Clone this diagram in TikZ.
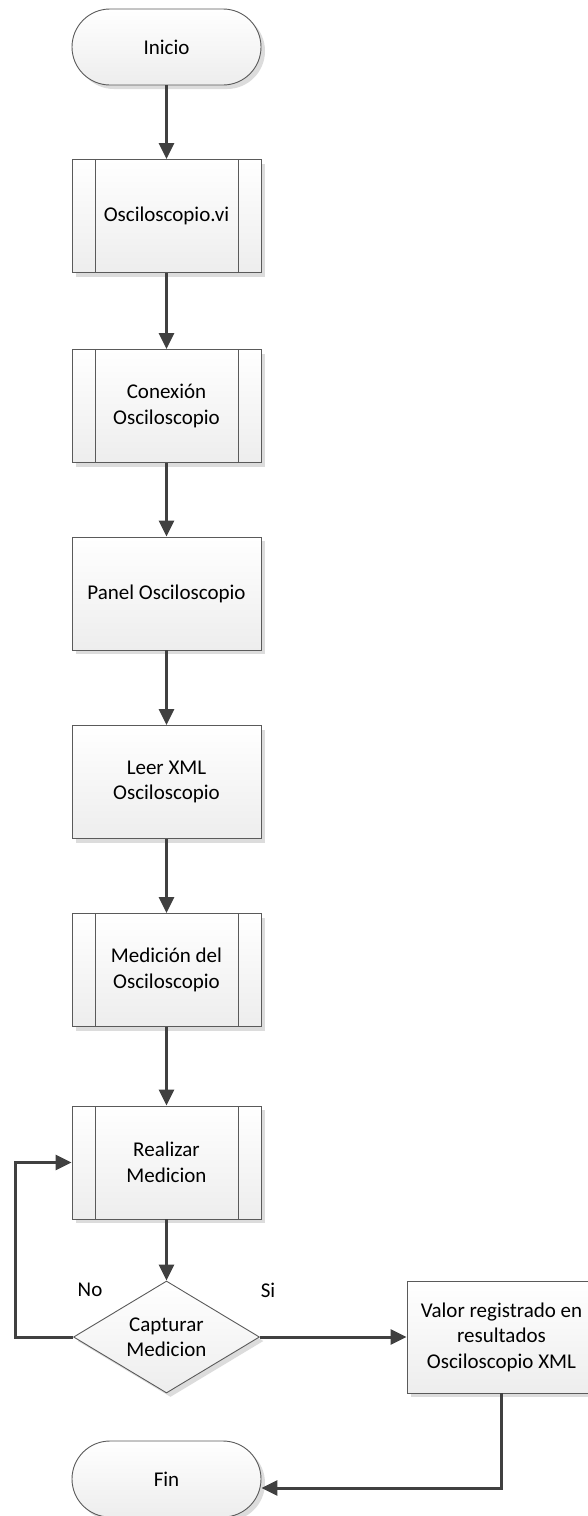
\documentclass[tikz,border=0pt]{standalone}
\usepackage{fontspec}
\setmainfont{Carlito}
\usetikzlibrary{arrows.meta,shapes.geometric,shadows}
\definecolor{edgecol}{HTML}{5A5A5A}
\definecolor{arrcol}{HTML}{404040}
\definecolor{shadcol}{HTML}{DCDCDC}
\tikzset{
  base/.style={draw=edgecol, line width=0.9pt, top color=white, bottom color=black!7,
    drop shadow={shadow xshift=4pt, shadow yshift=-4pt, fill=shadcol, opacity=1},
    inner sep=0pt, align=center, text=black, font=\fontsize{21}{25.5}\selectfont},
  proc/.style={base, rectangle, minimum width=189pt, minimum height=113pt},
  subproc/.style={proc, path picture={
    \draw[edgecol, line width=0.9pt]
      ([xshift=23pt]path picture bounding box.north west) -- ([xshift=23pt]path picture bounding box.south west)
      ([xshift=-23pt]path picture bounding box.north east) -- ([xshift=-23pt]path picture bounding box.south east);}},
  term/.style={base, rectangle, rounded corners=38pt, minimum width=189pt, minimum height=76pt},
  decision/.style={base, diamond, aspect=1.66, minimum width=186pt, minimum height=112pt},
  flow/.style={draw=arrcol, line width=3pt, -{Triangle[length=16pt,width=15pt]}},
  lbl/.style={inner sep=0pt, text=black, font=\fontsize{21}{25.5}\selectfont}
}
\begin{document}
\begin{tikzpicture}[x=1pt, y=-1pt]
\useasboundingbox (0,0) rectangle (587,1516);
\node[term] (start) at (166.5,47) {Inicio};
\node[subproc] (p1) at (166.5,216) {Osciloscopio.vi};
\node[subproc] (p2) at (166.5,406) {Conexión\\Osciloscopio};
\node[proc] (p3) at (166.5,593.5) {Panel Osciloscopio};
\node[proc] (p4) at (166.5,782) {Leer XML\\Osciloscopio};
\node[subproc] (p5) at (166.5,970) {Medición del\\Osciloscopio};
\node[subproc] (p6) at (166.5,1162.5) {Realizar\\Medicion};
\node[decision] (dec) at (166.5,1337) {Capturar\\Medicion};
\node[proc, minimum width=189pt, minimum height=112pt] (rb) at (501.5,1337) {Valor registrado en\\resultados\\Osciloscopio XML};
\node[term] (fin) at (166.5,1479) {Fin};
\node[lbl] (no) at (90,1290) {No};
\node[lbl] (si) at (268,1290) {Si};
\coordinate (loopx) at (15,1337);
\draw[flow] (start) -- (p1);
\draw[flow] (p1) -- (p2);
\draw[flow] (p2) -- (p3);
\draw[flow] (p3) -- (p4);
\draw[flow] (p4) -- (p5);
\draw[flow] (p5) -- (p6);
\draw[flow] (p6) -- (dec);
\draw[flow] (dec.west) -- (loopx) |- (p6.west);
\draw[flow] (dec.east) -- (rb.west);
\draw[flow] (rb.south) |- ([yshift=-9pt]fin.east);
\end{tikzpicture}
\end{document}
